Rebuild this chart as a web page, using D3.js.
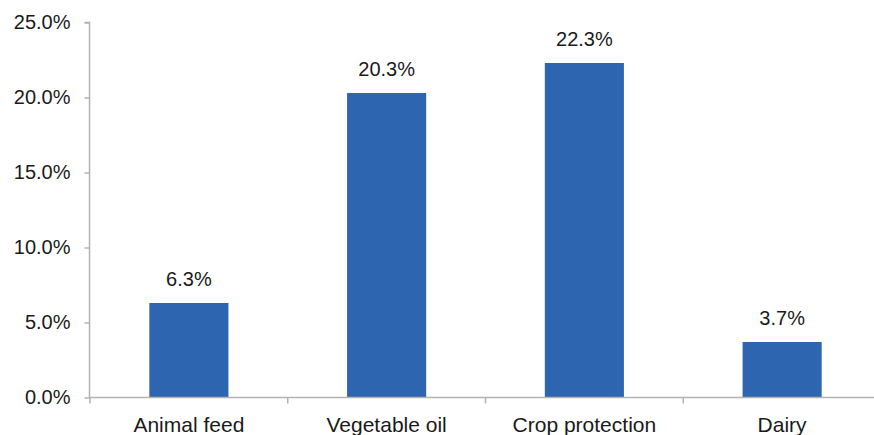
<!DOCTYPE html>
<html>
<head>
<meta charset="utf-8">
<script src="https://cdn.jsdelivr.net/npm/d3@7"></script>
<style>
  html, body { margin: 0; padding: 0; background: #fff; }
  svg { display: block; }
  text { font-family: "Liberation Sans", Arial, sans-serif; fill: #1a1a1a; }
</style>
</head>
<body>
<svg id="chart" width="874" height="435"></svg>
<script>
const categories = ["Animal feed", "Vegetable oil", "Crop protection", "Dairy"];
const values = [6.3, 20.3, 22.3, 3.7];
const yTicks = [0, 5, 10, 15, 20, 25];

const width = 874, height = 435;
const svg = d3.select("#chart");

const x = d3.scaleBand()
  .domain(categories)
  .range([90, 881])
  .paddingInner(0.6)
  .paddingOuter(0.3);

const y = d3.scaleLinear()
  .domain([0, 25])
  .range([397.5, 22.5]);

const axisColor = "#b3b3b3";
const fontSize = 20;

// Bars
svg.append("g")
  .selectAll("rect")
  .data(values)
  .join("rect")
  .attr("x", (d, i) => x(categories[i]))
  .attr("y", d => y(d))
  .attr("width", x.bandwidth())
  .attr("height", d => y(0) - y(d))
  .attr("fill", "#2e65b0");

// Value labels above the bars
svg.append("g")
  .selectAll("text")
  .data(values)
  .join("text")
  .attr("x", (d, i) => x(categories[i]) + x.bandwidth() / 2)
  .attr("y", d => y(d) - 17)
  .attr("text-anchor", "middle")
  .attr("font-size", fontSize)
  .text(d => d.toFixed(1) + "%");

// Y axis
const yAxis = svg.append("g")
  .attr("transform", "translate(89.5,0)")
  .call(d3.axisLeft(y).tickValues(yTicks).tickSize(5).tickPadding(14)
    .tickFormat(d => d.toFixed(1) + "%"));
yAxis.select(".domain").attr("stroke", axisColor).attr("stroke-width", 1.5)
  .attr("d", `M-5,${y(25)}H0V${y(0)}`);
yAxis.selectAll(".tick line").attr("stroke", axisColor).attr("stroke-width", 1.5);
yAxis.selectAll(".tick text").attr("font-size", fontSize)
  .attr("font-family", "Liberation Sans, Arial, sans-serif").attr("fill", "#1a1a1a");

// X axis with ticks at category boundaries
const xAxis = svg.append("g").attr("transform", `translate(0,${y(0)})`);
xAxis.append("line")
  .attr("x1", 89).attr("x2", width)
  .attr("stroke", axisColor).attr("stroke-width", 1.5);
const step = x.step();
const bounds = d3.range(categories.length + 1).map(i => x.range()[0] + i * step);
xAxis.selectAll("line.tk")
  .data(bounds)
  .join("line")
  .attr("class", "tk")
  .attr("x1", d => d).attr("x2", d => d)
  .attr("y1", 0).attr("y2", 6)
  .attr("stroke", axisColor).attr("stroke-width", 1.5);
xAxis.selectAll("text")
  .data(categories)
  .join("text")
  .attr("x", d => x(d) + x.bandwidth() / 2)
  .attr("y", 34.5)
  .attr("text-anchor", "middle")
  .attr("font-size", 21)
  .text(d => d);
</script>
</body>
</html>
